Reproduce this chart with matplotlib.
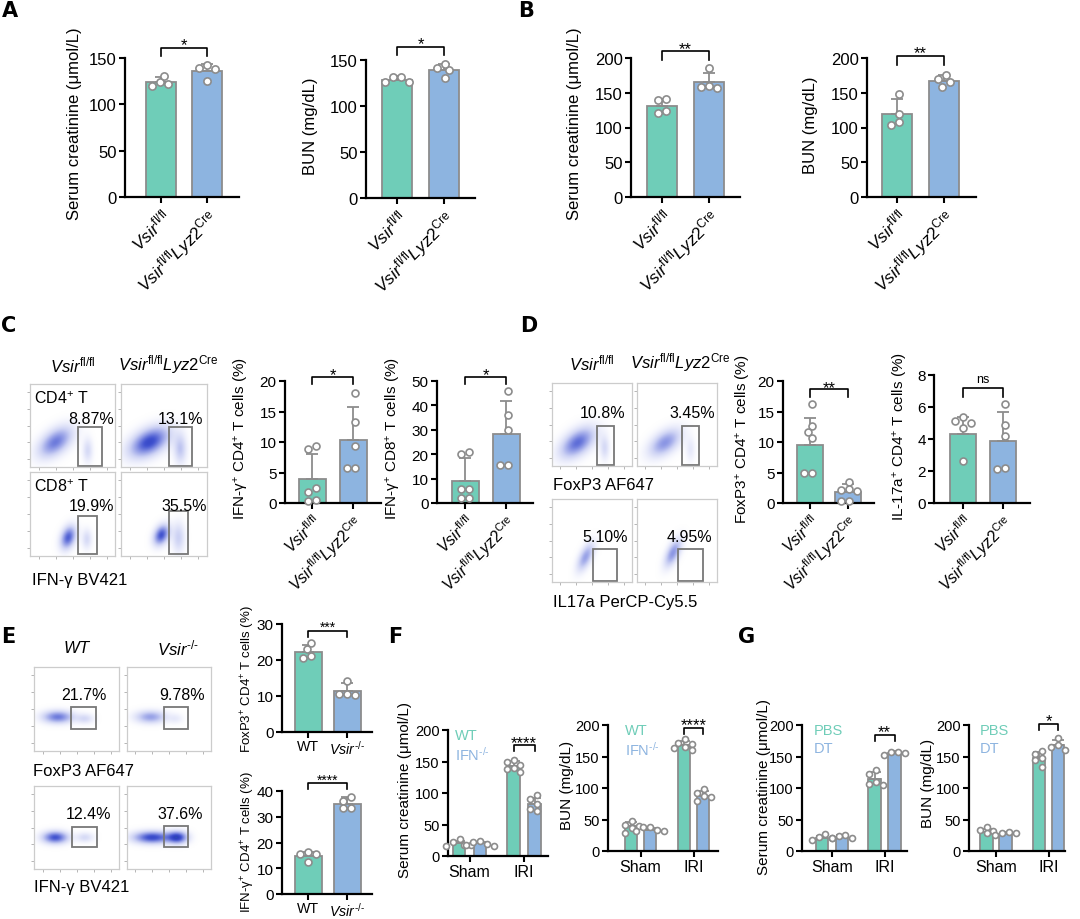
import numpy as np
import matplotlib
matplotlib.use('Agg')
import matplotlib.pyplot as plt
import matplotlib.transforms as mtransforms
from matplotlib.colors import LinearSegmentedColormap
from matplotlib.patches import Rectangle

plt.rcParams['font.family'] = ['Liberation Sans', 'DejaVu Sans']
plt.rcParams['mathtext.fontset'] = 'custom'
plt.rcParams['mathtext.rm'] = 'Liberation Sans'
plt.rcParams['mathtext.it'] = 'Liberation Sans:italic'
plt.rcParams['mathtext.bf'] = 'Liberation Sans:bold'

# ------------------------------------------------------------------ DATA
GENO = [r'$\mathit{Vsir}^{\mathrm{fl/fl}}$',
        r'$\mathit{Vsir}^{\mathrm{fl/fl}}\mathit{Lyz2}^{\mathrm{Cre}}$']
KO = ['WT', '$\\mathit{Vsir}^{\\mathrm{\u2010/\u2010}}$']
FG_GROUPS = ['Sham', 'IRI']

A_scr_mean = [124.3, 136.0]
A_scr_sd = [5.0, 7.5]
A_scr_pts = [[120, 124, 131, 122], [142, 138, 139, 125]]
A_bun_mean = [128.7, 139.0]
A_bun_sd = [3.5, 7.0]
A_bun_pts = [[126, 132, 126, 131], [139, 146, 141, 130]]

B_scr_mean = [131.0, 165.0]
B_scr_sd = [10.0, 13.5]
B_scr_pts = [[139, 141, 124, 121], [185, 157, 160, 158]]
B_bun_mean = [119.5, 166.5]
B_bun_sd = [21.0, 8.5]
B_bun_pts = [[148, 104, 108, 119], [158, 176, 166, 170]]

C_cd4_mean = [3.9, 10.4]
C_cd4_sd = [4.1, 5.3]
C_cd4_pts = [[8.9, 9.3, 1.8, 2.5, 0.4, 0.5], [18.1, 13.2, 9.4, 5.7, 5.7]]
C_cd8_mean = [9.1, 28.2]
C_cd8_sd = [9.2, 13.6]
C_cd8_pts = [[20, 21, 5.7, 5.7, 1.9, 1.9], [46, 36, 30, 15.5, 15.5]]
C_flow_pct = ['8.87%', '13.1%', '19.9%', '35.5%']

D_foxp3_mean = [9.5, 1.85]
D_foxp3_sd = [4.4, 1.25]
D_foxp3_pts = [[16.2, 12.6, 11.6, 10.6, 4.9, 4.9], [3.5, 2.0, 2.1, 2.3, 0.4, 0.4]]
D_il17_mean = [4.3, 3.9]
D_il17_sd = [1.05, 1.8]
D_il17_pts = [[5.1, 5.35, 5.0, 4.7, 2.6], [6.2, 4.9, 4.2, 2.1, 2.2]]
D_flow_pct = ['10.8%', '3.45%', '5.10%', '4.95%']

E_foxp3_mean = [22.3, 11.5]
E_foxp3_sd = [1.9, 2.0]
E_foxp3_pts = [[24.7, 23.1, 20.5, 21.0], [14.3, 10.6, 10.6, 10.3]]
E_ifng_mean = [14.6, 35.0]
E_ifng_sd = [1.9, 2.5]
E_ifng_pts = [[16.5, 15.7, 15.7, 12.5], [37.8, 36.2, 33.3, 33.3]]
E_flow_pct = ['21.7%', '9.78%', '12.4%', '37.6%']

F_scr_wt_mean = [20, 143]
F_scr_wt_sd = [4, 8]
F_scr_wt_pts = [[27, 22, 18, 16, 17], [153, 150, 145, 140, 134, 138]]
F_scr_ko_mean = [20, 82]
F_scr_ko_sd = [3, 10]
F_scr_ko_pts = [[24, 23, 19, 17, 16], [97, 90, 83, 75, 72]]
F_bun_wt_mean = [39, 168]
F_bun_wt_sd = [7, 7]
F_bun_wt_pts = [[48, 42, 40, 36, 28], [178, 172, 170, 165, 160, 163]]
F_bun_ko_mean = [34, 88]
F_bun_ko_sd = [3, 7]
F_bun_ko_pts = [[38, 38, 34, 32, 31], [98, 92, 88, 85, 80]]

G_scr_pbs_mean = [20, 114]
G_scr_pbs_sd = [4, 12]
G_scr_pbs_pts = [[27, 22, 20, 18], [128, 122, 110, 104, 106]]
G_scr_dt_mean = [22, 155]
G_scr_dt_sd = [3, 3]
G_scr_dt_pts = [[25, 24, 21, 20], [157, 157, 156, 152]]
G_bun_pbs_mean = [30, 147]
G_bun_pbs_sd = [5, 10]
G_bun_pbs_pts = [[38, 33, 31, 28], [159, 154, 144, 133, 147]]
G_bun_dt_mean = [27, 168]
G_bun_dt_sd = [3, 8]
G_bun_dt_pts = [[30, 29, 28, 25], [179, 168, 165, 160]]

# ------------------------------------------------------------------ STYLE
W, H = 1080, 920
fig = plt.figure(figsize=(W / 100, H / 100), dpi=100)
GREEN = '#6fcdb8'
BLUE = '#8db4e0'
EDGE = '#8c8c8c'
FLOW_CMAP = LinearSegmentedColormap.from_list(
    'flow', [(0, '#ffffff'), (0.05, '#f4f5fd'), (0.25, '#cdd2f4'), (0.5, '#8b96e4'),
             (0.75, '#4052cf'), (0.9, '#2c3dbe'), (1.0, '#2aa37a')])


def ftext(x, y, s, **kw):
    return fig.text(x / W, 1 - y / H, s, **kw)


def setup_ax(L, R, ytop, y0, ymax, yticks, fs):
    ax = fig.add_axes([L / W, 1 - y0 / H, (R - L) / W, (y0 - ytop) / H])
    ax.set_ylim(0, ymax)
    ax.set_yticks(yticks)
    ax.spines[['top', 'right']].set_visible(False)
    for s in ['left', 'bottom']:
        ax.spines[s].set_linewidth(1.6)
    ax.tick_params(axis='both', direction='out', length=4.5, width=1.5,
                   labelsize=fs, pad=1.5)
    ax.patch.set_alpha(0)
    return ax


def swarm_offsets(vals, ppu_y, ppu_x, d):
    vals = np.asarray(vals, float)
    ypx = vals * ppu_y
    order = np.argsort(-vals)
    cands = [0.0]
    for k in range(1, 14):
        cands += [-k * d * 0.5, k * d * 0.5]
    placed = []
    offs = np.zeros(len(vals))
    lim = (d * 0.88) ** 2
    for idx in order:
        for c in cands:
            if all((c - px) ** 2 + (ypx[idx] - py) ** 2 >= lim for px, py in placed):
                offs[idx] = c / ppu_x
                placed.append((c, ypx[idx]))
                break
    if len(placed):
        offs -= np.mean([p[0] for p in placed]) / ppu_x
    return offs


def draw_bars(ax, xs, means, sds, pts, colors, width, ppu_x, ppu_y, ms):
    ax.bar(xs, means, width, color=colors, edgecolor=EDGE, linewidth=1.3, zorder=2)
    ax.errorbar(xs, means, yerr=[np.zeros(len(sds)), sds], fmt='none',
                ecolor=EDGE, elinewidth=1.3, capsize=4.5, capthick=1.3, zorder=3)
    dpx = ms * 100 / 72 + 1.0
    for x, p in zip(xs, pts):
        off = swarm_offsets(p, ppu_y, ppu_x, dpx)
        ax.plot(x + off, p, 'o', ms=ms, mfc='white', mec=EDGE, mew=1.2,
                zorder=4, clip_on=False, linestyle='none')


def bracket(ax, x1, x2, ybar, yleg, ytxt, txt, y0, ytop, fs):
    tr = mtransforms.blended_transform_factory(ax.transData, ax.transAxes)
    f = lambda ypx: (y0 - ypx) / (y0 - ytop)
    ax.plot([x1, x1, x2, x2], [f(yleg), f(ybar), f(ybar), f(yleg)],
            color='black', lw=1.2, transform=tr, clip_on=False)
    em = fs * 100 / 72
    k = 0.26 if txt == 'ns' else 0.58
    ax.text((x1 + x2) / 2, f(ytxt + k * em), txt, ha='center', va='baseline',
            transform=tr, fontsize=fs, clip_on=False)


def two_bar(L, R, ytop, y0, c1, c2, ymax, yticks, means, sds, pts, xlabels,
            ylabel, ylab, br, fs_tick, fs_lab, barw_px, rot=True, ms=5.2,
            star_fs=12):
    ax = setup_ax(L, R, ytop, y0, ymax, yticks, fs_tick)
    unit = c2 - c1
    ax.set_xlim((L - c1) / unit, (R - c1) / unit)
    ppu_y = (y0 - ytop) / ymax
    draw_bars(ax, [0, 1], means, sds, pts, [GREEN, BLUE], barw_px / unit,
              unit, ppu_y, ms)
    ax.set_xticks([0, 1])
    if rot:
        ax.set_xticklabels(xlabels, rotation=45, ha='right',
                           rotation_mode='anchor', fontsize=fs_tick + 0.5)
    else:
        ax.set_xticklabels(xlabels, fontsize=fs_tick - 0.8)
        ax.tick_params(axis='x', pad=0.5)
    ax.set_ylabel(ylabel, fontsize=fs_lab)
    ax.yaxis.set_label_coords((ylab[0] - L) / (R - L), (y0 - ylab[1]) / (y0 - ytop))
    bracket(ax, 0, 1, br[0], br[1], br[2], br[3], y0, ytop, star_fs)
    return ax


def grouped(L, R, ytop, y0, g1, g2, half, barw, ymax, yticks,
            m_a, s_a, p_a, m_b, s_b, p_b, ylabel, ylab, br, legend, leg_xy):
    ax = setup_ax(L, R, ytop, y0, ymax, yticks, 10.5)
    unit = g2 - g1
    ax.set_xlim((L - g1) / unit, (R - g1) / unit)
    d = half / unit
    ppu_y = (y0 - ytop) / ymax
    xs_a = [0 - d, 1 - d]
    xs_b = [0 + d, 1 + d]
    draw_bars(ax, xs_a, m_a, s_a, p_a, [GREEN, GREEN], barw / unit, unit, ppu_y, 4.3)
    draw_bars(ax, xs_b, m_b, s_b, p_b, [BLUE, BLUE], barw / unit, unit, ppu_y, 4.3)
    ax.set_xticks([0, 1])
    ax.set_xticklabels(FG_GROUPS, fontsize=11.5)
    ax.set_ylabel(ylabel, fontsize=11)
    ax.yaxis.set_label_coords((ylab[0] - L) / (R - L), (y0 - ylab[1]) / (y0 - ytop))
    bracket(ax, 1 - d, 1 + d, br[0], br[1], br[2], br[3], y0, ytop, 12)
    ftext(leg_xy[0], leg_xy[1], legend[0], color=GREEN, fontsize=10.5, va='center')
    ftext(leg_xy[0], leg_xy[2], legend[1], color=BLUE, fontsize=10.5, va='center')
    return ax


def flow(L, T, R, B, blobs, gate, pct, pct_xy, label=None):
    ax = fig.add_axes([L / W, 1 - B / H, (R - L) / W, (B - T) / H])
    g = np.linspace(0, 1, 220)
    X, Y = np.meshgrid(g, g)
    Z = np.zeros_like(X)
    for (cx, cy, sx, sy, rho, amp) in blobs:
        dx = (X - cx) / sx
        dy = (Y - cy) / sy
        Z += amp * np.exp(-(dx * dx - 2 * rho * dx * dy + dy * dy) / (2 * (1 - rho ** 2)))
    ax.imshow(Z, extent=[0, 1, 0, 1], origin='lower', cmap=FLOW_CMAP,
              vmin=0, vmax=1, aspect='auto', interpolation='bilinear')
    ax.add_patch(Rectangle((gate[0], gate[1]), gate[2] - gate[0], gate[3] - gate[1],
                           fill=False, ec='#777777', lw=1.3))
    ax.text(pct_xy[0], pct_xy[1], pct, transform=ax.transAxes, ha='center',
            va='center', fontsize=11.5)
    if label:
        ax.text(0.05, 0.84, label, transform=ax.transAxes, ha='left', va='center',
                fontsize=11.5)
    ax.set_xlim(0, 1)
    ax.set_ylim(0, 1)
    ax.set_xticks(np.linspace(0.1, 0.9, 5))
    ax.set_yticks(np.linspace(0.1, 0.9, 5))
    ax.tick_params(length=2, width=0.6, color='#aaaaaa', labelbottom=False,
                   labelleft=False, direction='out')
    for s in ax.spines.values():
        s.set_color('#cccccc')
        s.set_linewidth(0.9)
    return ax


# ------------------------------------------------------------------ panel letters
for lbl, x, y in [('A', 2, 11), ('B', 518, 11), ('C', 1, 326), ('D', 520, 326),
                  ('E', 1, 637), ('F', 388, 637), ('G', 738, 637)]:
    ftext(x, y, lbl, fontsize=15, fontweight='bold', family='DejaVu Sans',
          va='center', ha='left')

# ------------------------------------------------------------------ A & B
SCR = 'Serum creatinine (μmol/L)'
BUN = 'BUN (mg/dL)'
two_bar(125, 239, 59, 198, 161, 207, 150, [0, 50, 100, 150], A_scr_mean, A_scr_sd,
        A_scr_pts, GENO, SCR, (82, 124), (49, 57, 40, '*'), 12, 12, 30)
two_bar(366, 475, 61, 199, 397, 444, 150, [0, 50, 100, 150], A_bun_mean, A_bun_sd,
        A_bun_pts, GENO, BUN, (318, 126), (48, 56, 39, '*'), 12, 12, 30)
two_bar(631, 740, 59, 198, 662, 709, 200, [0, 50, 100, 150, 200], B_scr_mean, B_scr_sd,
        B_scr_pts, GENO, SCR, (582, 124), (52, 61, 44, '**'), 12, 12, 30)
two_bar(867, 976, 59, 198, 897, 944, 200, [0, 50, 100, 150, 200], B_bun_mean, B_bun_sd,
        B_bun_pts, GENO, BUN, (818, 125), (57, 66, 48, '**'), 12, 12, 30)

# ------------------------------------------------------------------ C
ftext(73, 365, GENO[0], fontsize=12, ha='center', va='center')
ftext(168, 365, GENO[1], fontsize=12, ha='center', va='center')
flow(30, 385, 115, 468, [(0.3, 0.3, 0.13, 0.12, 0.5, 0.6), (0.68, 0.2, 0.04, 0.1, 0.0, 0.2)],
     (0.565, 0.01, 0.85, 0.48), C_flow_pct[0], (0.72, 0.58), r'CD4$^{+}$ T')
flow(121, 385, 207, 468, [(0.33, 0.3, 0.15, 0.12, 0.45, 0.8), (0.69, 0.22, 0.05, 0.12, 0.0, 0.3)],
     (0.56, 0.01, 0.83, 0.48), C_flow_pct[1], (0.69, 0.58))
flow(30, 473, 115, 557, [(0.45, 0.22, 0.06, 0.09, 0.3, 0.7), (0.67, 0.2, 0.04, 0.08, 0.0, 0.2)],
     (0.565, 0.02, 0.79, 0.48), C_flow_pct[2], (0.72, 0.6), r'CD8$^{+}$ T')
flow(121, 473, 207, 557, [(0.47, 0.25, 0.06, 0.08, 0.3, 0.75), (0.67, 0.22, 0.05, 0.12, 0.0, 0.25)],
     (0.56, 0.02, 0.78, 0.54), C_flow_pct[3], (0.74, 0.6))
ftext(32, 580, 'IFN-γ BV421', fontsize=12, ha='left', va='center')

two_bar(285, 381, 382, 504, 312, 353, 20, [0, 5, 10, 15, 20], C_cd4_mean, C_cd4_sd,
        C_cd4_pts, GENO, r'IFN-γ$^{+}$ CD4$^{+}$ T cells (%)', (251, 439),
        (378, 385, 370, '*'), 11, 11, 27, ms=5)
two_bar(437, 533, 382, 504, 465, 506, 50, [0, 10, 20, 30, 40, 50], C_cd8_mean, C_cd8_sd,
        C_cd8_pts, GENO, r'IFN-γ$^{+}$ CD8$^{+}$ T cells (%)', (403, 439),
        (378, 385, 370, '*'), 11, 11, 27, ms=5)

# ------------------------------------------------------------------ D
ftext(592, 363, GENO[0], fontsize=12, ha='center', va='center')
ftext(680, 363, GENO[1], fontsize=12, ha='center', va='center')
flow(552, 384, 632, 467, [(0.32, 0.28, 0.14, 0.12, 0.5, 0.65), (0.66, 0.22, 0.04, 0.1, 0.0, 0.2)],
     (0.56, 0.01, 0.78, 0.48), D_flow_pct[0], (0.63, 0.64))
flow(637, 384, 717, 467, [(0.35, 0.28, 0.13, 0.11, 0.5, 0.5), (0.67, 0.2, 0.04, 0.1, 0.0, 0.12)],
     (0.56, 0.01, 0.78, 0.48), D_flow_pct[1], (0.69, 0.64))
flow(552, 500, 632, 583, [(0.42, 0.3, 0.07, 0.11, 0.6, 0.45)],
     (0.51, 0.01, 0.81, 0.40), D_flow_pct[2], (0.66, 0.55))
flow(637, 500, 717, 583, [(0.45, 0.35, 0.07, 0.11, 0.6, 0.5)],
     (0.51, 0.01, 0.82, 0.40), D_flow_pct[3], (0.66, 0.55))
ftext(553, 486, 'FoxP3 AF647', fontsize=12, ha='left', va='center')
ftext(553, 602, 'IL17a PerCP-Cy5.5', fontsize=12, ha='left', va='center')

two_bar(783, 874, 382, 504, 810, 848, 20, [0, 5, 10, 15, 20], D_foxp3_mean, D_foxp3_sd,
        D_foxp3_pts, GENO, r'FoxP3$^{+}$ CD4$^{+}$ T cells (%)', (753, 439),
        (390, 398, 383, '**'), 11, 11, 26, ms=5)
two_bar(934, 1030, 376, 504, 963, 1003, 8, [0, 2, 4, 6, 8], D_il17_mean, D_il17_sd,
        D_il17_pts, GENO, r'IL-17a$^{+}$ CD4$^{+}$ T cells (%)', (910, 437),
        (389, 398, 380, 'ns'), 11, 11, 26, ms=5, star_fs=9)

# ------------------------------------------------------------------ E
ftext(77, 648, r'$\mathit{WT}$', fontsize=12, ha='center', va='center')
ftext(178, 648, KO[1], fontsize=12, ha='center', va='center')
flow(34, 668, 119, 752, [(0.28, 0.4, 0.12, 0.05, 0.0, 0.6), (0.6, 0.38, 0.07, 0.04, 0.0, 0.2)],
     (0.44, 0.26, 0.73, 0.52), E_flow_pct[0], (0.59, 0.67))
flow(127, 668, 211, 752, [(0.28, 0.4, 0.12, 0.05, 0.0, 0.45), (0.58, 0.38, 0.06, 0.04, 0.0, 0.1)],
     (0.44, 0.26, 0.73, 0.52), E_flow_pct[1], (0.65, 0.67))
flow(34, 787, 119, 870, [(0.25, 0.38, 0.1, 0.05, 0.0, 0.75), (0.6, 0.38, 0.07, 0.04, 0.0, 0.2)],
     (0.45, 0.27, 0.74, 0.51), E_flow_pct[2], (0.64, 0.67))
flow(127, 787, 211, 870, [(0.3, 0.38, 0.15, 0.05, 0.0, 0.8), (0.6, 0.38, 0.08, 0.05, 0.0, 0.8)],
     (0.44, 0.27, 0.73, 0.52), E_flow_pct[3], (0.63, 0.67))
ftext(33, 772, 'FoxP3 AF647', fontsize=12, ha='left', va='center')
ftext(34, 888, 'IFN-γ BV421', fontsize=12, ha='left', va='center')

two_bar(282, 372, 625, 733, 308, 347, 30, [0, 10, 20, 30], E_foxp3_mean, E_foxp3_sd,
        E_foxp3_pts, KO, r'FoxP3$^{+}$ CD4$^{+}$ T cells (%)', (257, 679),
        (632, 638, 624, '***'), 11, 9.5, 27, rot=False, ms=5, star_fs=10)
two_bar(282, 372, 792, 895, 308, 347, 40, [0, 10, 20, 30, 40], E_ifng_mean, E_ifng_sd,
        E_ifng_pts, KO, r'IFN-γ$^{+}$ CD4$^{+}$ T cells (%)', (257, 842),
        (784, 790, 777, '****'), 11, 9.5, 27, rot=False, ms=5, star_fs=10)

# ------------------------------------------------------------------ F & G
T200 = [0, 50, 100, 150, 200]
IFNKO = 'IFN$^{\\mathrm{\u2010/\u2010}}$'
grouped(448, 548, 731, 857, 469.5, 524, 10.5, 12.5, 200, T200,
        F_scr_wt_mean, F_scr_wt_sd, F_scr_wt_pts, F_scr_ko_mean, F_scr_ko_sd, F_scr_ko_pts,
        SCR, (412, 790), (746, 752, 738, '****'), ('WT', IFNKO), (455, 736, 755))
grouped(608, 718, 726, 852, 640.5, 693.5, 9.5, 12.5, 200, T200,
        F_bun_wt_mean, F_bun_wt_sd, F_bun_wt_pts, F_bun_ko_mean, F_bun_ko_sd, F_bun_ko_pts,
        BUN, (574, 785), (729, 735, 720, '****'), ('WT', IFNKO), (625, 731, 750))
grouped(802, 907, 726, 852, 832, 884.5, 10, 12.5, 200, T200,
        G_scr_pbs_mean, G_scr_pbs_sd, G_scr_pbs_pts, G_scr_dt_mean, G_scr_dt_sd, G_scr_dt_pts,
        SCR, (771, 787), (736, 742, 727, '**'), ('PBS', 'DT'), (814, 731, 749))
grouped(969, 1065, 726, 852, 996, 1048.5, 9.5, 12.5, 200, T200,
        G_bun_pbs_mean, G_bun_pbs_sd, G_bun_pbs_pts, G_bun_dt_mean, G_bun_dt_sd, G_bun_dt_pts,
        BUN, (935, 783), (725, 731, 716, '*'), ('PBS', 'DT'), (980, 731, 749))

fig.savefig('out.png', dpi=100)
